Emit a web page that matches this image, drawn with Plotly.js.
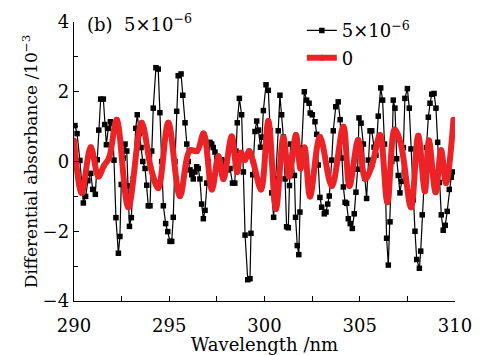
<!DOCTYPE html>
<html>
<head>
<meta charset="utf-8">
<script src="https://cdn.plot.ly/plotly-3.0.1.min.js"></script>
<style>html,body{margin:0;padding:0;background:#fff;}#chart{width:487px;height:355px;}</style>
</head>
<body>
<div id="chart"></div>
<script>
// Series "5×10^-6" (black, squares)
const wlBlack = [290.05,290.16,290.31,290.49,290.61,290.73,290.88,290.98,291.12,291.22,291.30,291.40,291.54,291.61,291.70,291.80,291.91,292.01,292.10,292.20,292.33,292.41,292.48,292.59,292.68,292.77,292.83,292.91,293.01,293.11,293.24,293.32,293.43,293.52,293.61,293.73,293.82,293.90,293.99,294.08,294.16,294.30,294.42,294.51,294.60,294.69,294.81,294.92,295.04,295.13,295.21,295.30,295.39,295.47,295.62,295.71,295.83,295.92,296.00,296.09,296.18,296.26,296.35,296.44,296.52,296.61,296.70,296.79,296.88,296.97,297.05,297.14,297.23,297.31,297.40,297.49,297.57,297.66,297.75,297.84,297.95,298.06,298.19,298.32,298.44,298.50,298.57,298.68,298.80,298.89,298.98,299.12,299.24,299.29,299.38,299.50,299.59,299.68,299.79,299.87,299.94,300.08,300.20,300.30,300.38,300.48,300.60,300.72,300.81,300.90,300.99,301.08,301.16,301.25,301.31,301.37,301.47,301.57,301.63,301.72,301.80,301.86,301.95,302.09,302.21,302.34,302.40,302.51,302.65,302.74,302.82,302.91,303.00,303.14,303.23,303.32,303.40,303.53,303.61,303.74,303.87,303.97,304.06,304.14,304.23,304.31,304.40,304.50,304.61,304.71,304.80,304.89,304.96,305.07,305.19,305.27,305.36,305.45,305.54,305.63,305.75,305.85,305.97,306.10,306.20,306.30,306.41,306.50,306.59,306.68,306.76,306.85,306.94,307.02,307.11,307.20,307.29,307.37,307.50,307.60,307.69,307.81,307.90,307.99,308.13,308.20,308.28,308.39,308.50,308.60,308.69,308.78,308.90,309.00,309.09,309.18,309.28,309.38,309.49,309.59,309.70,309.80,309.91];
const absBlack = [1.03,0.80,0.03,-1.19,-1.00,-0.55,-0.34,-0.80,-0.94,0.05,0.90,1.79,1.79,1.06,0.48,0.95,1.14,1.10,0.04,-1.61,-2.63,-2.15,-0.66,0.10,0.50,0.30,-0.70,-1.86,-1.61,-0.50,0.95,1.34,0.80,0.40,0.00,-0.20,-0.68,-1.27,-1.27,0.30,1.53,2.69,2.65,1.40,0.00,-1.27,-1.78,-2.01,-2.29,-2.29,-1.60,0.00,1.44,2.46,2.51,1.90,1.11,0.50,0.00,-0.24,-0.38,-0.50,-0.30,-0.15,-0.20,-0.50,-1.22,-1.64,-1.40,-0.62,0.00,0.55,0.50,0.40,0.27,0.10,0.04,0.00,0.05,0.00,-0.10,-0.24,-0.20,-0.62,-0.62,0.30,1.11,1.81,1.34,-0.30,-2.11,-3.39,-3.36,-2.06,-0.38,0.86,1.16,0.90,0.41,0.70,1.46,2.20,2.04,0.88,-0.90,-1.60,-0.50,0.88,1.90,1.34,0.70,-0.50,-1.87,-1.90,-0.69,0.50,0.20,-0.40,-1.60,-2.41,-2.67,-1.45,0.39,2.00,1.76,1.67,1.39,1.34,1.14,0.78,-0.10,-1.03,-1.31,-1.50,-1.45,-1.22,-0.99,0.04,0.88,1.57,1.71,1.20,0.10,-0.73,-1.17,-1.20,-1.64,-1.78,-1.92,-1.50,-0.88,-0.22,1.25,1.10,0.50,-0.48,-1.06,0.04,0.88,0.88,0.41,0.18,1.30,2.11,1.76,0.50,-2.20,-2.97,-1.73,0.00,1.76,1.53,0.08,-0.40,-0.90,-0.57,0.40,1.81,2.09,1.53,0.36,-1.10,-2.00,-2.81,-3.06,-2.57,-1.53,-0.50,0.40,1.27,1.67,1.93,1.95,1.53,0.55,-0.60,-1.53,-1.97,-1.83,-1.43,-0.80,-0.45,-0.30];

// Series "0" (red, dense circles) — read at peaks, troughs and shoulders
const wlRed = [290.00,290.40,290.88,291.28,291.57,291.84,292.24,292.85,293.55,294.04,294.42,294.95,295.56,296.09,296.46,296.80,297.24,297.58,297.84,298.28,298.56,298.77,298.98,299.19,299.40,299.82,300.20,300.60,300.99,301.29,301.65,301.89,302.10,302.39,302.91,303.53,304.14,304.46,304.92,305.29,305.62,306.06,306.45,306.83,307.16,307.69,308.07,308.42,308.63,308.98,309.27,309.53,309.92];
const absRed = [0.60,-0.90,0.41,-0.43,-0.12,0.10,1.20,-1.31,1.11,-0.20,-0.76,1.11,-0.99,0.32,0.30,0.80,-0.80,0.15,-0.50,0.72,-0.30,0.25,0.05,0.30,0.00,-0.80,1.16,-1.36,0.69,-0.43,0.76,-0.20,0.40,-1.00,0.70,-0.70,1.00,-0.70,0.62,-0.50,-0.15,0.76,-1.17,0.92,0.50,-1.31,0.74,-0.85,0.60,-0.88,0.32,-0.62,1.20];

const seriesNames = ['5×10<sup>−6</sup>', '0'];
const panelLabel = '(b)  5×10<sup>−6</sup>';
const xTitle = 'Wavelength /nm';
const yTitle = 'Differential absorbance /10<sup>−3</sup>';

const FONT = 'DejaVu Serif';

const traces = [
  {
    x: wlBlack, y: absBlack, name: seriesNames[0], type: 'scatter', mode: 'lines+markers',
    line: {color: '#000000', width: 1.2},
    marker: {symbol: 'square', size: 5.5, color: '#000000'},
    legendgroup: 'a'
  },
  {
    x: wlRed, y: absRed, name: seriesNames[1], type: 'scatter', mode: 'lines+markers',
    line: {color: '#ec2326', width: 6, shape: 'spline', smoothing: 1},
    marker: {symbol: 'circle', size: 6, color: '#ec2326'},
    legendgroup: 'b'
  }
];

const layout = {
  width: 487, height: 355,
  margin: {l: 74, r: 32, t: 15, b: 54},
  paper_bgcolor: '#ffffff', plot_bgcolor: '#ffffff',
  font: {family: FONT, size: 18, color: '#000000'},
  showlegend: true,
  legend: {x: 0.598, y: 1.035, xanchor: 'left', yanchor: 'top', bgcolor: 'rgba(0,0,0,0)',
           font: {family: FONT, size: 18}, traceorder: 'grouped', tracegroupgap: 1},
  xaxis: {
    range: [290, 310], dtick: 5, tick0: 290,
    showline: true, linecolor: '#000', linewidth: 1.3, mirror: false,
    ticks: 'inside', ticklen: 5, tickwidth: 1.2, tickcolor: '#000',
    minor: {dtick: 2.5, ticks: 'inside', ticklen: 5, tickwidth: 1.2, tickcolor: '#000'},
    showgrid: false, zeroline: false, ticklabelstandoff: 8,
    title: {text: xTitle, font: {family: FONT, size: 18}, standoff: 2},
    tickfont: {family: FONT, size: 18}
  },
  yaxis: {
    range: [-4, 4], dtick: 2, tick0: 0,
    showline: true, linecolor: '#000', linewidth: 1.3, mirror: false,
    ticks: 'inside', ticklen: 5, tickwidth: 1.2, tickcolor: '#000',
    minor: {dtick: 1, ticks: 'inside', ticklen: 4, tickwidth: 1.2, tickcolor: '#000'},
    showgrid: false, zeroline: false,
    title: {text: yTitle, font: {family: FONT, size: 17}, standoff: 0},
    tickfont: {family: FONT, size: 18}
  },
  annotations: [
    {text: panelLabel, xref: 'paper', yref: 'paper', x: 0.029, y: 0.995,
     xanchor: 'left', yanchor: 'middle', showarrow: false, font: {family: FONT, size: 18}}
  ]
};

Plotly.newPlot('chart', traces, layout, {displayModeBar: false, staticPlot: true});
</script>
</body>
</html>
